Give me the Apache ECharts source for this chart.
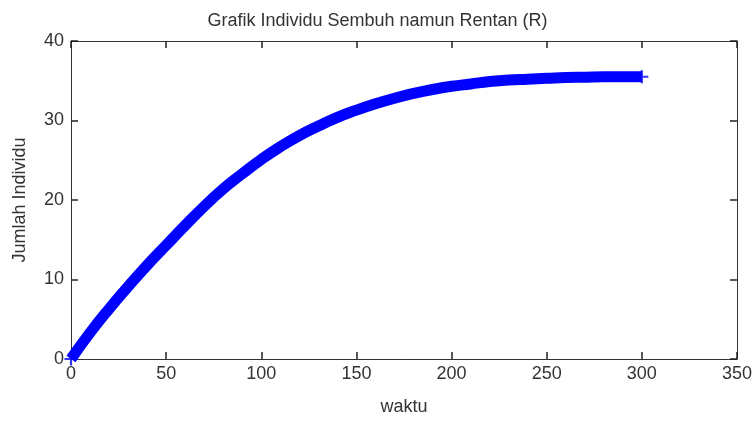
<!DOCTYPE html>
<html>
<head>
<meta charset="utf-8">
<script src="https://cdn.jsdelivr.net/npm/echarts@6/dist/echarts.min.js"></script>
<style>
html,body{margin:0;padding:0;background:#fff;}
#c{width:755px;height:421px;}
</style>
</head>
<body>
<div id="c"></div>
<script>
var titleText = 'Grafik Individu Sembuh namun Rentan (R)';
var xLabel = 'waktu';
var yLabel = 'Jumlah Individu';
var waktu = [0,10,20,30,40,50,60,70,80,90,100,110,120,130,140,150,160,170,180,190,200,210,220,230,240,250,260,270,280,290,300];
var R = [0,3.3,6.3,9.1,11.8,14.3,16.8,19.2,21.4,23.3,25.1,26.7,28.1,29.3,30.4,31.3,32.1,32.8,33.4,33.9,34.3,34.6,34.9,35.1,35.2,35.3,35.4,35.45,35.5,35.5,35.5];
var xTicks = [0,50,100,150,200,250,300,350];
var yTicks = [0,10,20,30,40];

var FONT = '"Liberation Sans Narrow","Liberation Sans",Arial,sans-serif';
var TXT = '#333';
var AX = '#333';

var pts = waktu.map(function(t,i){return [t,R[i]];});
var ends = [pts[0], pts[pts.length-1]];

var chart = echarts.init(document.getElementById('c'), null, {renderer:'canvas'});
function common(){
  return {
    axisLine:{show:true,onZero:false,lineStyle:{color:AX,width:1}},
    axisTick:{show:true,inside:true,length:7,lineStyle:{color:'#222',width:1.5}},
    splitLine:{show:false}
  };
}
chart.setOption({
  animation:false,
  backgroundColor:'#fff',
  title:{text:titleText,left:'center',top:7,textStyle:{fontFamily:FONT,fontSize:18,fontWeight:'normal',color:TXT}},
  grid:{left:71,right:16,top:41,bottom:51,containLabel:false},
  xAxis:[
    Object.assign({type:'value',min:xTicks[0],max:xTicks[xTicks.length-1],interval:50,position:'bottom',
      name:xLabel,nameLocation:'middle',nameGap:39,nameTextStyle:{fontFamily:FONT,fontSize:18,color:TXT},
      axisLabel:{fontFamily:FONT,fontSize:18,color:TXT,margin:6}},common()),
    Object.assign({type:'value',min:xTicks[0],max:xTicks[xTicks.length-1],interval:50,position:'top',
      axisLabel:{show:false}},common())
  ],
  yAxis:[
    Object.assign({type:'value',min:yTicks[0],max:yTicks[yTicks.length-1],interval:10,position:'left',
      name:yLabel,nameLocation:'middle',nameGap:42,nameRotate:90,nameTextStyle:{fontFamily:FONT,fontSize:18,color:TXT},
      axisLabel:{fontFamily:FONT,fontSize:18,color:TXT,margin:7}},common()),
    Object.assign({type:'value',min:yTicks[0],max:yTicks[yTicks.length-1],interval:10,position:'right',
      axisLabel:{show:false}},common())
  ],
  series:[
    {type:'line',data:pts,xAxisIndex:0,yAxisIndex:0,smooth:true,showSymbol:false,
      lineStyle:{color:'#0000ff',width:11,cap:'butt',join:'round'}},
    {type:'scatter',data:ends,xAxisIndex:0,yAxisIndex:0,symbol:'path://M5,0H7V5H12V7H7V12H5V7H0V5H5Z',symbolSize:13,
      itemStyle:{color:'#0000ff'}}
  ]
});
</script>
</body>
</html>
